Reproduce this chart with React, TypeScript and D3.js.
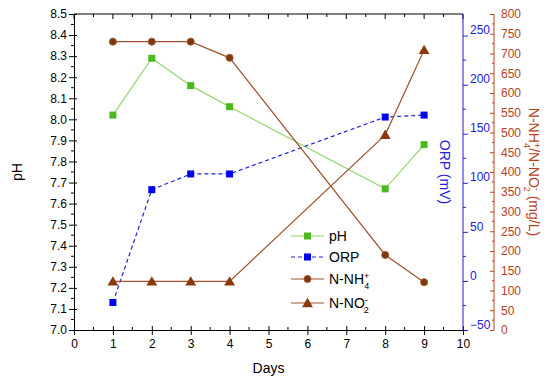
import React, { useRef, useEffect } from 'react';
import * as d3 from 'd3';

const days = [1, 2, 3, 4, 8, 9];
const phValues = [8.02, 8.29, 8.16, 8.06, 7.67, 7.88];
const orpValues = [-22, 93, 109, 109, 167, 169];
const nh4Values = [730, 730, 730, 689, 190, 121];
const no2Values = [123, 123, 123, 123, 494, 709];

const W = 550;
const H = 382;
const FONT = '"Liberation Sans", Arial, sans-serif';
const RED = '#b8401e';
const BLUE = '#2020e0';

const App = () => {
  const svgRef = useRef<SVGSVGElement>(null);

  useEffect(() => {
    const svg = d3.select(svgRef.current);
    svg.selectAll('*').remove();

    const left = 74, right = 463, top = 14, bottom = 330;
    const x = d3.scaleLinear().domain([0, 10]).range([left, right]);
    const yPh = d3.scaleLinear().domain([7, 8.5]).range([bottom, top]);
    const yOrp = d3.scaleLinear().domain([-50, 272]).range([bottom, top]);
    const yN = d3.scaleLinear().domain([0, 800]).range([bottom, top]);
    const redX = 494;

    const g = svg.append('g').style('font-family', FONT);

    // frame lines
    g.append('line').attr('x1', left).attr('x2', right).attr('y1', top).attr('y2', top).attr('stroke', '#000');

    // bottom axis
    const xb = g.append('g').attr('transform', `translate(0,${bottom})`);
    xb.call(d3.axisBottom(x).ticks(10).tickSize(5).tickFormat(d3.format('d')));
    xb.selectAll('.tick line').attr('y1', -4);
    xb.call((s) => s.select('.domain').attr('stroke', '#000'));
    xb.selectAll('text').style('font-size', '12px').attr('dy', '0.85em').attr('y', 8);
    d3.range(0.5, 10, 1).forEach((v) => {
      xb.append('line').attr('x1', x(v)).attr('x2', x(v)).attr('y1', 0).attr('y2', -3).attr('stroke', '#000');
    });
    // top ticks (inward)
    d3.range(0, 10.01, 0.5).forEach((v) => {
      g.append('line').attr('x1', x(v)).attr('x2', x(v)).attr('y1', top).attr('y2', top + (v % 1 === 0 ? 5 : 3)).attr('stroke', '#000');
    });

    // left pH axis
    const yl = g.append('g').attr('transform', `translate(${left},0)`);
    yl.call(d3.axisLeft(yPh).tickValues(d3.range(7, 8.501, 0.1)).tickSize(5).tickFormat(d3.format('.1f')));
    yl.selectAll('.tick line').attr('x2', -5).attr('x1', 3);
    yl.selectAll('text').style('font-size', '12px').attr('x', -7);
    d3.range(7.05, 8.5, 0.1).forEach((v) => {
      yl.append('line').attr('x1', 0).attr('x2', -3).attr('y1', yPh(v)).attr('y2', yPh(v)).attr('stroke', '#000');
    });

    // ORP axis
    const yr = g.append('g').attr('transform', `translate(${right},0)`);
    yr.call(d3.axisRight(yOrp).tickValues(d3.range(-50, 251, 50)).tickSize(5));
    yr.select('.domain').attr('stroke', BLUE).attr('d', `M0,${bottom}V${top}`);
    yr.selectAll('.tick line').attr('stroke', BLUE);
    yr.selectAll('text').attr('fill', BLUE).style('font-size', '12px').attr('x', 7).attr('dy', '-0.15em');
    d3.range(-25, 272, 50).forEach((v) => {
      yr.append('line').attr('x1', 0).attr('x2', 3).attr('y1', yOrp(v)).attr('y2', yOrp(v)).attr('stroke', BLUE);
    });

    // N axis
    const yn = g.append('g').attr('transform', `translate(${redX},0)`);
    yn.call(d3.axisRight(yN).tickValues(d3.range(0, 801, 50)).tickSize(5));
    yn.select('.domain').attr('stroke', RED).attr('d', `M0,${bottom}V${top}`);
    yn.selectAll('.tick line').attr('stroke', RED);
    yn.selectAll('text').attr('fill', RED).style('font-size', '12px').attr('x', 7);
    yn.selectAll('.tick line').attr('x1', -4).attr('x2', 0);
    d3.range(25, 800, 50).forEach((v) => {
      yn.append('line').attr('x1', 0).attr('x2', -2).attr('y1', yN(v)).attr('y2', yN(v)).attr('stroke', RED);
    });

    // axis titles
    g.append('text').attr('x', (left + right) / 2).attr('y', 373).attr('text-anchor', 'middle').style('font-size', '14px').text('Days');
    g.append('text').attr('transform', `translate(22,${(top + bottom) / 2}) rotate(-90)`).attr('text-anchor', 'middle').style('font-size', '14px').text('pH');
    g.append('text').attr('transform', `translate(440,${(top + bottom) / 2}) rotate(90)`).attr('text-anchor', 'middle').attr('fill', BLUE).style('font-size', '14px').text('ORP (mV)');
    const nt = g.append('text').attr('transform', `translate(529,${(top + bottom) / 2}) rotate(90)`).attr('text-anchor', 'middle').attr('fill', RED).style('font-size', '14px');
    nt.append('tspan').text('N-NH');
    nt.append('tspan').attr('baseline-shift', 'super').style('font-size', '9px').text('+');
    nt.append('tspan').attr('dx', -5).attr('baseline-shift', 'sub').style('font-size', '9px').text('4');
    nt.append('tspan').text('/N-NO');
    nt.append('tspan').attr('baseline-shift', 'super').style('font-size', '9px').text('-');
    nt.append('tspan').attr('dx', -4).attr('baseline-shift', 'sub').style('font-size', '9px').text('2');
    nt.append('tspan').text(' (mg/L)');

    // series
    const series = [
      { vals: phValues, y: yPh, line: '#8fd46a', dash: null, mark: 'square', fill: '#4cb81e', size: 7, name: 'pH' },
      { vals: orpValues, y: yOrp, line: BLUE, dash: '4,3', mark: 'square', fill: '#0000ee', size: 7, name: 'ORP' },
      { vals: nh4Values, y: yN, line: '#a0522d', dash: null, mark: 'circle', fill: '#7a3a0c', size: 7, name: 'N-NH' },
      { vals: no2Values, y: yN, line: '#a0522d', dash: null, mark: 'triangle', fill: '#8a3a0a', size: 8, name: 'N-NO' },
    ];

    const drawMark = (sel, kind, cx, cy, fill, size) => {
      if (kind === 'square') {
        sel.append('rect').attr('x', cx - size / 2).attr('y', cy - size / 2).attr('width', size).attr('height', size).attr('fill', fill);
      } else if (kind === 'circle') {
        sel.append('circle').attr('cx', cx).attr('cy', cy).attr('r', size / 2).attr('fill', fill).attr('stroke', '#a0522d');
      } else {
        const sym = d3.symbol().type(d3.symbolTriangle).size(size * size * 0.8);
        sel.append('path').attr('d', sym()).attr('transform', `translate(${cx},${cy + 1})`).attr('fill', fill);
      }
    };

    series.forEach((s) => {
      const line = d3.line<number>().x((_, i) => x(days[i])).y((v) => s.y(v));
      g.append('path').attr('d', line(s.vals)).attr('fill', 'none').attr('stroke', s.line).attr('stroke-width', 1.2).attr('stroke-dasharray', s.dash);
      s.vals.forEach((v, i) => drawMark(g, s.mark, x(days[i]), s.y(v), s.fill, s.size));
    });

    // legend
    const legY = [236, 257, 279, 303];
    series.forEach((s, i) => {
      const ly = legY[i];
      g.append('line').attr('x1', 291).attr('x2', 324).attr('y1', ly).attr('y2', ly).attr('stroke', s.line).attr('stroke-width', 1.2).attr('stroke-dasharray', s.dash);
      drawMark(g, s.mark, 307.5, ly, s.fill, s.size);
      const t = g.append('text').attr('x', 329).attr('y', ly + 5).style('font-size', '14px').text(s.name);
      if (i === 2) {
        t.append('tspan').attr('baseline-shift', 'super').style('font-size', '9px').text('+');
        t.append('tspan').attr('dx', -5).attr('baseline-shift', 'sub').style('font-size', '9px').text('4');
      }
      if (i === 3) {
        t.append('tspan').attr('baseline-shift', 'super').style('font-size', '9px').text('-');
        t.append('tspan').attr('dx', -4).attr('baseline-shift', 'sub').style('font-size', '9px').text('2');
      }
    });
  }, []);

  return (
    <svg ref={svgRef} width={W} height={H} style={{ position: 'absolute', left: 0, top: 0, background: '#fff' }} />
  );
};

export default App;
